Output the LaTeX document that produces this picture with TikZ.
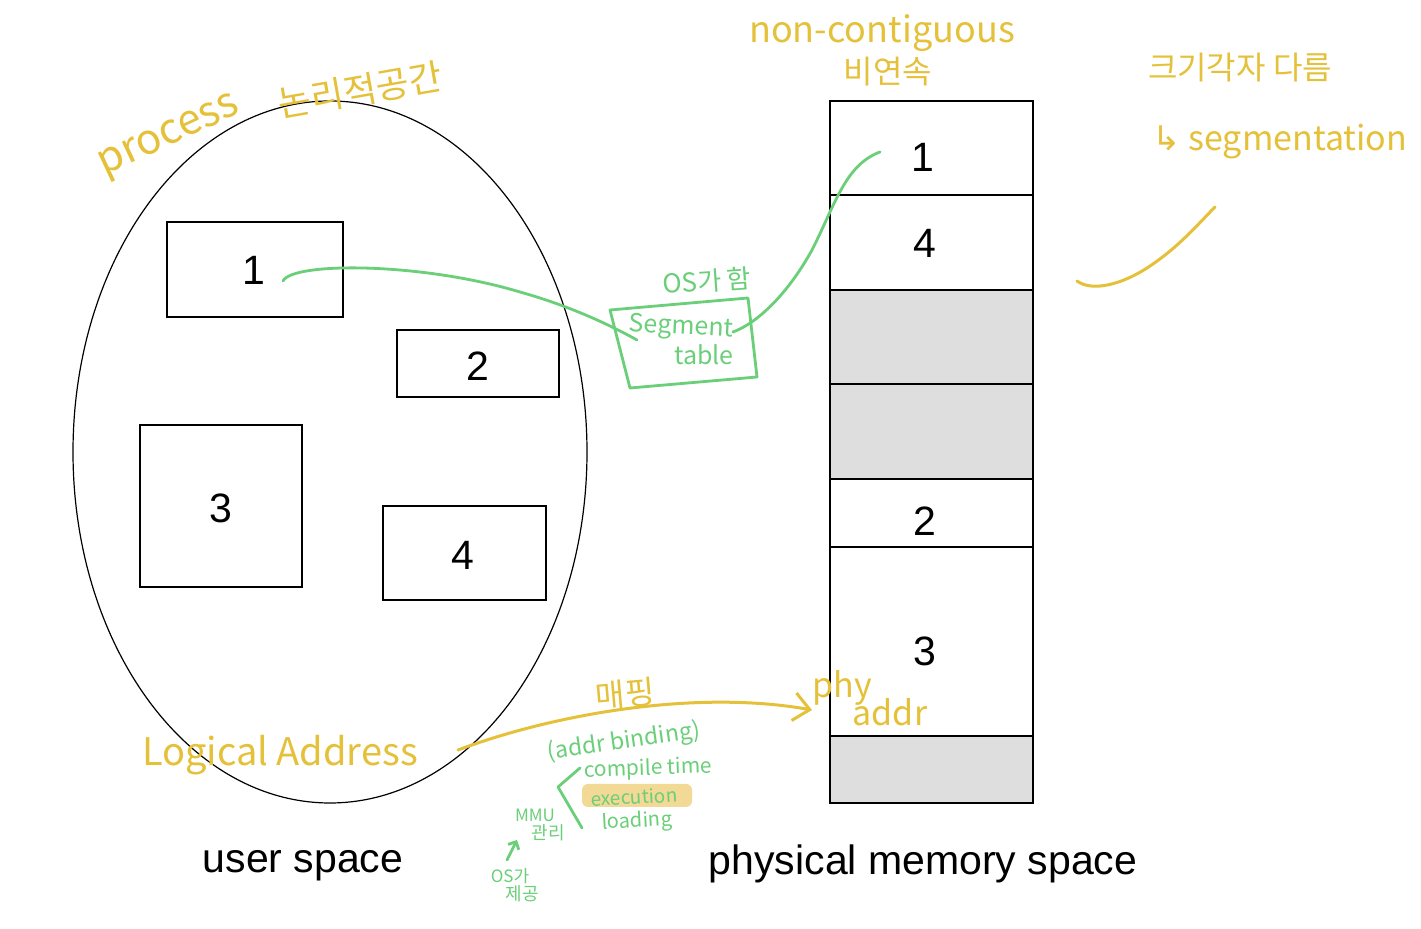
\documentclass[tikz,border=0pt]{standalone}
\usepackage{fontspec}
\setmainfont{Liberation Sans}
\newfontfamily\hand{Noto Sans CJK KR}
\newfontfamily\dvs{DejaVu Sans}
\usetikzlibrary{shapes.geometric,arrows.meta}
\definecolor{hy}{HTML}{E5C13A}
\definecolor{hg}{HTML}{6ACF78}
\definecolor{memgray}{HTML}{DEDEDE}
\definecolor{hlite}{HTML}{F2D996}
\newcommand{\fs}[1]{\fontsize{#1}{#1}\selectfont}
\tikzset{
  blk/.style={draw=black, line width=0.6pt, inner sep=0pt},
  memrow/.style={blk, minimum width=101.5pt, fill=white},
  grayrow/.style={memrow, fill=memgray},
  lbl/.style={font=\fs{20.5}, inner sep=0pt},
  ytext/.style={text=hy, inner sep=0pt},
  gtext/.style={text=hg, inner sep=0pt},
  yline/.style={draw=hy, line width=1.5pt, line cap=round, line join=round},
  gline/.style={draw=hg, line width=1.4pt, line cap=round, line join=round},
}
\begin{document}
\begin{tikzpicture}[x=0.5pt,y=-0.5pt]
\useasboundingbox[fill=white] (0,0) rectangle (1421,929);

% user space ellipse
\node[blk, ellipse, minimum width=257pt, minimum height=351pt] (us) at (330,452) {};
\node[blk, minimum width=88pt, minimum height=47.5pt] (b1) at (255,269.5) {};
\node[blk, minimum width=81pt, minimum height=33.5pt] (b2) at (478,363.5) {};
\node[blk, minimum width=81pt, minimum height=81pt] (b3) at (221,506) {};
\node[blk, minimum width=81.5pt, minimum height=47pt] (b4) at (464.5,553) {};
\node[lbl] (l1) at (254,270) {1};
\node[lbl] (l2) at (478,366) {2};
\node[lbl] (l3) at (221,508) {3};
\node[lbl] (l4) at (463,555) {4};
\node[font=\fs{20.5}, inner sep=0pt] (usl) at (303,866) {user space};

% physical memory
\node[memrow, minimum height=47pt] (m1) at (931.5,148) {};
\node[memrow, minimum height=47.5pt] (m2) at (931.5,242.5) {};
\node[grayrow, minimum height=47pt] (m3) at (931.5,337) {};
\node[grayrow, minimum height=47.5pt] (m4) at (931.5,431.5) {};
\node[memrow, minimum height=34pt] (m5) at (931.5,513) {};
\node[memrow, minimum height=94.5pt] (m6) at (931.5,641.5) {};
\node[grayrow, minimum height=33.5pt] (m7) at (931.5,769.5) {};
\node[lbl] (ml1) at (923,157) {1};
\node[lbl] (ml4) at (925,243) {4};
\node[lbl] (ml2) at (925,521) {2};
\node[lbl] (ml3) at (925,651) {3};
\node[font=\fs{20.5}, inner sep=0pt] (pml) at (923,864) {physical memory space};

% yellow annotations
\node[ytext, font=\hand\fs{21}, rotate=25] (proc) at (170,138) {process};
\node[ytext, font=\hand\fs{18}, rotate=10] (nonri) at (360,90) {논리적공간};
\node[ytext, font=\hand\fs{18}] (nonc) at (882,33) {non-contiguous};
\node[ytext, font=\hand\fs{16}] (biy) at (888,72) {비연속};
\node[ytext, font=\hand\fs{16}] (size) at (1240,68) {크기각자 다름};
\node[ytext, font=\hand\fs{17}, anchor=west] (segm) at (1152,142) {{\dvs ↳} segmentation};
\node[ytext, font=\hand\fs{19}] (logi) at (280,755) {Logical Address};
\node[ytext, font=\hand\fs{17}] (phy) at (842,688) {phy};
\node[ytext, font=\hand\fs{17}] (addr) at (890,712) {addr};
\node[ytext, font=\hand\fs{16}, rotate=5] (mapp) at (625,694) {매핑};
\coordinate (ystart) at (458,750);
\coordinate (yend) at (812,710);
\draw[yline, -{Straight Barb[length=8pt,width=14pt,line width=1.5pt]}] (ystart) .. controls (560,712) and (700,690) .. (yend);
\coordinate (sw1) at (1077,281);
\coordinate (sw2) at (1215,207);
\draw[yline] (sw1) .. controls (1092,292) and (1122,285) .. (1150,266) .. controls (1180,246) and (1200,222) .. (sw2);

% green annotations: segment table
\node[gtext, font=\hand\fs{13}, rotate=4] (osga) at (707,281) {OS가 함};
\draw[gline] (610,310) -- (748,298) -- (757,377) -- (630,388) -- cycle;
\node[gtext, font=\hand\fs{12.5}, rotate=-3] (segt) at (681,328) {Segment};
\node[gtext, font=\hand\fs{12.5}] (tabl) at (704,355) {table};
\coordinate (gstart) at (283,281);
\coordinate (gend) at (880,152);
\draw[gline] (gstart) .. controls (292,262) and (420,262) .. (520,292) .. controls (570,306) and (610,325) .. (637,340);
\draw[gline] (733,332) .. controls (760,322) and (790,290) .. (812,250) .. controls (835,205) and (845,165) .. (gend);

% green: address binding
\fill[hlite, rounded corners=3pt] (582,784) rectangle (692,807);
\node[gtext, font=\hand\fs{11.5}, rotate=8] (bind) at (624,742) {(addr binding)};
\node[gtext, font=\hand\fs{10.5}, rotate=2] (comp) at (648,769) {compile time};
\node[gtext, font=\hand\fs{9.5}, rotate=3] (exec) at (634,797) {execution};
\node[gtext, font=\hand\fs{10}, rotate=3] (load) at (637,822) {loading};
\draw[gline] (580,768) -- (558,787) -- (582,828);
\node[gtext, font=\hand\fs{8.5}] (mmu) at (535,815) {MMU};
\node[gtext, font=\hand\fs{9}] (kwan) at (548,833) {관리};
\node[gtext, font=\hand\fs{8.5}] (osg) at (510,876) {OS가};
\node[gtext, font=\hand\fs{9}] (jeg) at (522,894) {제공};
\draw[gline, -{Straight Barb[length=3pt,width=6pt]}] (507,860) -- (517,840);
\end{tikzpicture}
\end{document}
